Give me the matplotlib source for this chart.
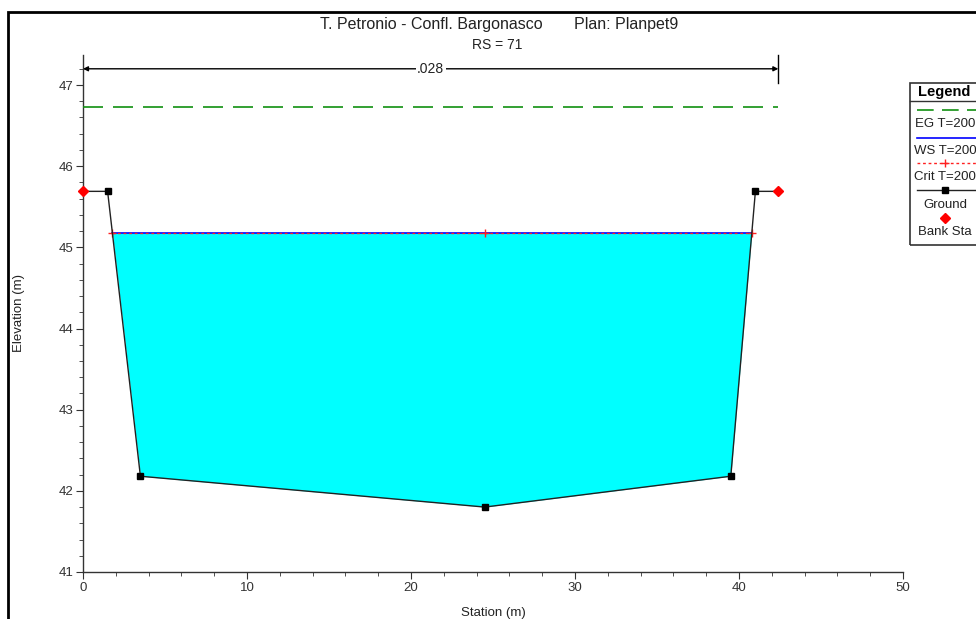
import numpy as np
import matplotlib
matplotlib.use("Agg")
import matplotlib.pyplot as plt
from matplotlib.lines import Line2D
from matplotlib.patches import Rectangle

plt.rcParams['font.family'] = ['Liberation Sans', 'DejaVu Sans']

# ---- data ----
station = [0.0, 1.5, 3.5, 24.5, 39.5, 41.0, 42.4]
elevation = [45.69, 45.69, 42.18, 41.80, 42.18, 45.69, 45.69]
bank_sta = [0.0, 42.4]
bank_elev = [45.69, 45.69]
ws_elev = 45.18
crit_elev = 45.18
eg_elev = 46.73
n_value = ".028"
n_range = [0.0, 42.4]
title_text = "T. Petronio - Confl. Bargonasco       Plan: Planpet9"
subtitle_text = "RS = 71"
legend_labels = ["EG T=200", "WS T=200", "Crit T=200", "Ground", "Bank Sta"]

W, H = 976, 619
fig = plt.figure(figsize=(W / 100, H / 100), dpi=100)
ax = fig.add_axes([83 / W, 1 - 572 / H, (903 - 83) / W, (572 - 55) / H])

st = np.array(station)
el = np.array(elevation)

# intersections of water surface with ground
xl = np.interp(ws_elev, el[1:3][::-1], st[1:3][::-1])
xr = np.interp(ws_elev, el[4:6], st[4:6])
x_thalweg = st[np.argmin(el)]

# water fill
ax.fill_between(st, el, ws_elev, where=el <= ws_elev + 1e-9, interpolate=True,
                color='#00FFFF', linewidth=0, zorder=1)

# EG
ax.plot([st[0], st[-1]], [eg_elev, eg_elev], color='#109010', lw=1.2,
        dashes=(12, 6), zorder=3)
# WS
ax.plot([xl, xr], [ws_elev, ws_elev], color='#0000FF', lw=1.2, zorder=3)
# Crit
ax.plot([xl, xr], [crit_elev, crit_elev], color='#FF2020', lw=1.0,
        dashes=(2, 2), zorder=4)
ax.plot([xl, x_thalweg, xr], [crit_elev] * 3, linestyle='none', marker='+',
        color='#FF2020', ms=6, mew=1.0, zorder=4)
# Ground
ax.plot(st, el, color='#222222', lw=1.0, zorder=5)
ax.plot(st[1:-1], el[1:-1], linestyle='none', marker='s', color='black', ms=5,
        zorder=6)
# Bank stations
ax.plot(bank_sta, bank_elev, linestyle='none', marker='D', color='#FF0000',
        ms=5, zorder=7, clip_on=False)

# Manning's n arrow
y_arrow = 47.2
ax.annotate('', xy=(n_range[0], y_arrow), xytext=(n_range[1], y_arrow),
            arrowprops=dict(arrowstyle='<|-|>', color='black', lw=1.0,
                            mutation_scale=7, shrinkA=0, shrinkB=0), zorder=8)
ax.plot([n_range[1], n_range[1]], [47.02, 47.37], color='black', lw=1.0,
        clip_on=False)
ax.text((n_range[0] + n_range[1]) / 2, y_arrow, n_value, ha='center',
        va='center', fontsize=10, color='#222222',
        bbox=dict(facecolor='white', edgecolor='none', pad=1.0), zorder=9)

# axes styling
ax.set_xlim(0, 50)
ax.set_ylim(41, 47.37)
ax.set_xticks(np.arange(0, 51, 10))
ax.set_xticks(np.arange(0, 51, 2), minor=True)
ax.set_yticks(np.arange(41, 48, 1))
ax.set_yticks(np.arange(41, 47.37, 0.2), minor=True)
for s in ['top', 'right']:
    ax.spines[s].set_visible(False)
for s in ['left', 'bottom']:
    ax.spines[s].set_color('#333333')
    ax.spines[s].set_linewidth(1.0)
ax.tick_params(which='major', length=5, color='#333333', labelsize=9.5,
               labelcolor='#333333', pad=2)
ax.tick_params(which='minor', length=3, color='#333333')
ax.set_xlabel("Station (m)", fontsize=9.5, color='#222222')
ax.set_ylabel("Elevation (m)", fontsize=9.5, color='#222222')
ax.xaxis.set_label_coords(0.5, -0.068)
ax.yaxis.set_label_coords(-0.071, 0.5)

# titles
fig.text(499 / W, 1 - 25 / H, title_text, ha='center', va='center',
         fontsize=11.5, color='#222222')
fig.text(497 / W, 1 - 45 / H, subtitle_text, ha='center', va='center',
         fontsize=10, color='#222222')

# figure border
fig.add_artist(Rectangle((8 / W, -0.05), 1.2, 1 - 12 / H + 0.05,
                         transform=fig.transFigure, fill=False,
                         edgecolor='black', lw=2.0))

# legend (manual, HEC-RAS style)
lx0, lx1 = 910, 990
ly0, ly1 = 83, 245
fig.add_artist(Rectangle((lx0 / W, 1 - ly1 / H), (lx1 - lx0) / W,
                         (ly1 - ly0) / H, transform=fig.transFigure,
                         fill=False, edgecolor='#333333', lw=1.2))
fig.add_artist(Line2D([lx0 / W, lx1 / W], [1 - 101 / H] * 2,
                      transform=fig.transFigure, color='#333333', lw=1.0))
fig.text(944 / W, 1 - 92 / H, "Legend", ha='center', va='center',
         fontsize=10.5, fontweight='bold', color='black')
cx = 945
lines_y = [110, 138, 163, 190, 218]
text_y = [124, 151, 177, 205, 232]
x_a, x_b = 917 / W, 976 / W
fig.add_artist(Line2D([x_a, x_b], [1 - lines_y[0] / H] * 2, transform=fig.transFigure,
                      color='#109010', lw=1.2, dashes=(10, 5)))
fig.add_artist(Line2D([x_a, x_b], [1 - lines_y[1] / H] * 2, transform=fig.transFigure,
                      color='#0000FF', lw=1.2))
fig.add_artist(Line2D([x_a, x_b], [1 - lines_y[2] / H] * 2, transform=fig.transFigure,
                      color='#FF2020', lw=1.0, dashes=(2, 2)))
fig.add_artist(Line2D([cx / W], [1 - lines_y[2] / H], transform=fig.transFigure,
                      color='#FF2020', marker='+', ms=6, linestyle='none'))
fig.add_artist(Line2D([x_a, x_b], [1 - lines_y[3] / H] * 2, transform=fig.transFigure,
                      color='#222222', lw=1.0))
fig.add_artist(Line2D([cx / W], [1 - lines_y[3] / H], transform=fig.transFigure,
                      color='black', marker='s', ms=5, linestyle='none'))
fig.add_artist(Line2D([cx / W], [1 - lines_y[4] / H], transform=fig.transFigure,
                      color='#FF0000', marker='D', ms=5, linestyle='none'))
for lab, ty in zip(legend_labels, text_y):
    fig.text(cx / W, 1 - ty / H, lab, ha='center', va='center', fontsize=9.5,
             color='#222222')

fig.savefig("out.png", dpi=100)
